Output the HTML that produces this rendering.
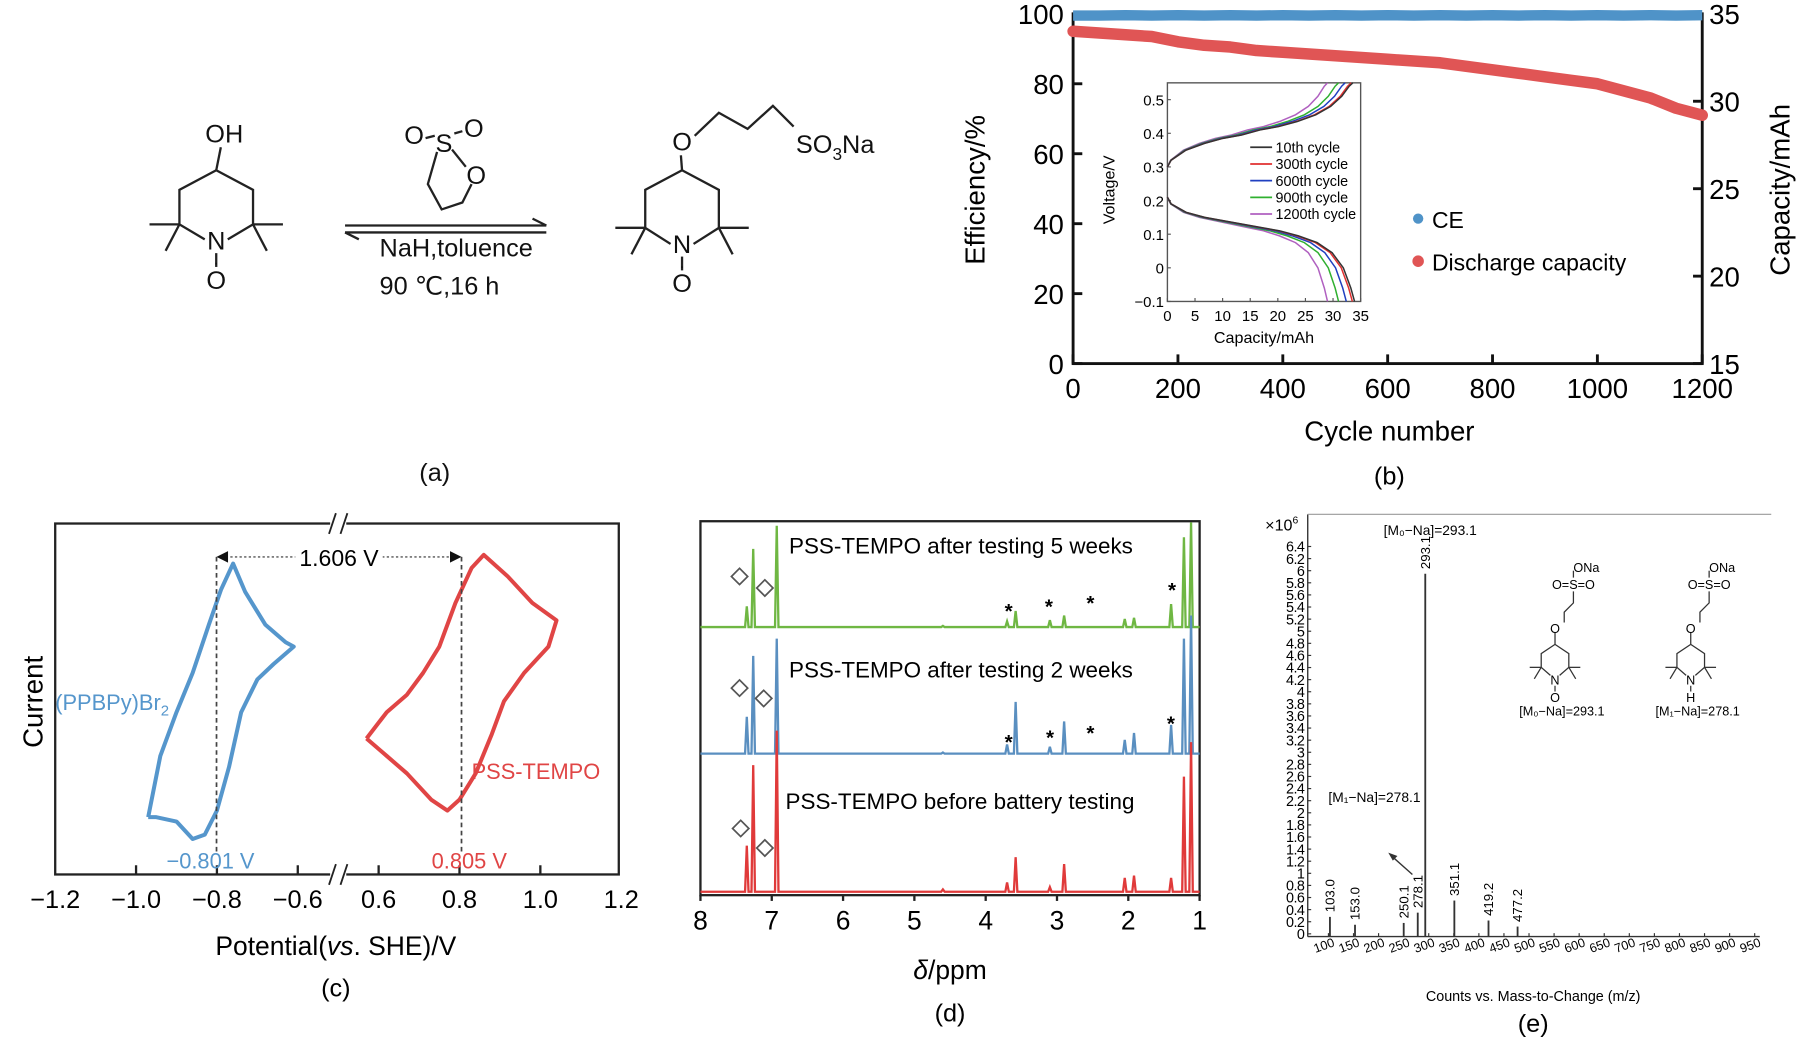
<!DOCTYPE html>
<html><head><meta charset="utf-8"><style>
html,body{margin:0;padding:0;background:#fff;}
svg{display:block;font-family:"Liberation Sans","DejaVu Sans",sans-serif;}
</style></head><body>
<svg id="fig" width="1800" height="1039" viewBox="0 0 1565 903" preserveAspectRatio="none" xmlns="http://www.w3.org/2000/svg">
<g stroke="#222" stroke-width="2" fill="none">
  <line x1="192" y1="128" x2="188" y2="148"/>
  <polyline points="188,148 220,165 220,195 198,208"/>
  <polyline points="188,148 156,165 156,195 178,208"/>
  <line x1="220" y1="195" x2="246" y2="195"/><line x1="220" y1="195" x2="232" y2="218"/>
  <line x1="156" y1="195" x2="130" y2="195"/><line x1="156" y1="195" x2="144" y2="218"/>
  <line x1="188" y1="220" x2="188" y2="232"/>
  <line x1="300" y1="196" x2="475" y2="196"/><polyline points="463,190 475,196"/>
  <line x1="300" y1="202" x2="475" y2="202"/><polyline points="300,202 312,208"/>
  <polyline points="380,132 372,160 384,182 402,176 410,160"/>
  <line x1="370" y1="120" x2="378" y2="118"/><line x1="395" y1="116" x2="402" y2="114"/>
  <line x1="393" y1="130" x2="405" y2="145"/>
  <line x1="592" y1="135" x2="593" y2="148"/>
  <polyline points="593,148 625,165 625,198 603,212"/>
  <polyline points="593,148 561,165 561,198 583,212"/>
  <line x1="625" y1="198" x2="651" y2="198"/><line x1="625" y1="198" x2="637" y2="221"/>
  <line x1="561" y1="198" x2="535" y2="198"/><line x1="561" y1="198" x2="549" y2="221"/>
  <line x1="593" y1="223" x2="593" y2="235"/>
  <polyline points="604,118 625,98 650,112 672,92 690,110"/>
</g>
<g font-size="22" fill="#111">
  <text x="195" y="124" text-anchor="middle">OH</text>
  <text x="188" y="217" text-anchor="middle">N</text>
  <text x="188" y="251" text-anchor="middle">O</text><text x="188" y="233" text-anchor="middle" font-size="14">·</text>
  <text x="386" y="132" text-anchor="middle">S</text>
  <text x="360" y="125" text-anchor="middle">O</text><text x="412" y="119" text-anchor="middle">O</text>
  <text x="414" y="160" text-anchor="middle">O</text>
  <text x="330" y="223">NaH,toluence</text>
  <text x="330" y="256">90 ℃,16 h</text>
  <text x="593" y="131" text-anchor="middle">O</text>
  <text x="593" y="220" text-anchor="middle">N</text>
  <text x="593" y="254" text-anchor="middle">O</text><text x="593" y="236" text-anchor="middle" font-size="14">·</text>
  <text x="692" y="133">SO<tspan font-size="15" dy="6">3</tspan><tspan dy="-6">Na</tspan></text>
  <text x="378" y="418" text-anchor="middle">(a)</text>
</g>
<g id="pb"></g>
<g id="pc"></g>
<g id="pd"></g>
<g id="pe"></g>
</svg>
<script>
const NS="http://www.w3.org/2000/svg";
function mk(parent,tag,attrs,text){const e=document.createElementNS(NS,tag);for(const k in attrs)e.setAttribute(k,attrs[k]);if(text!==undefined)e.textContent=text;parent.appendChild(e);return e;}

// ---------- Panel (b) data ----------
const bCycles=[0,50,100,150,200,250,300,350,400,450,500,550,600,650,700,750,800,850,900,950,1000,1050,1100,1150,1200];
const bCE=[99.5,99.5,99.6,99.5,99.6,99.5,99.6,99.5,99.6,99.5,99.6,99.5,99.6,99.5,99.6,99.5,99.6,99.5,99.6,99.5,99.6,99.5,99.6,99.5,99.6];
const bCapacity=[34.0,33.9,33.8,33.7,33.4,33.2,33.1,32.9,32.8,32.7,32.6,32.5,32.4,32.3,32.2,32.0,31.8,31.6,31.4,31.2,31.0,30.6,30.2,29.6,29.2];
const bXTicks=[0,200,400,600,800,1000,1200];
const bYLeftTicks=[0,20,40,60,80,100];
const bYRightTicks=[15,20,25,30,35];
const insetFrac=[0,0.02,0.1,0.2,0.3,0.4,0.5,0.6,0.7,0.8,0.88,0.94,0.98,1.0];
const insetChargeV=[0.30,0.32,0.35,0.37,0.385,0.395,0.41,0.42,0.435,0.455,0.48,0.51,0.54,0.55];
const insetDischargeV=[0.21,0.19,0.165,0.15,0.14,0.13,0.12,0.11,0.095,0.075,0.045,0.0,-0.06,-0.1];
const insetCycles=["10th cycle","300th cycle","600th cycle","900th cycle","1200th cycle"];
const insetChargeEnd=[33.6,33.3,32.2,31.0,29.0];
const insetDischargeEnd=[33.9,33.5,32.4,31.0,29.0];
const insetColors=["#333","#e03030","#2040c0","#30b030","#b060c0"];
const insetXTicks=[0,5,10,15,20,25,30,35];
const insetYTicks=[-0.1,0,0.1,0.2,0.3,0.4,0.5];

(function(){
 const g=document.getElementById('pb');
 const L=933,R=1480,T=12,B=316;
 const X=v=>L+(v-0)/1200*(R-L), YL=v=>B-v/100*(B-T), YR=v=>B-(v-15)/20*(B-T);
 mk(g,'rect',{x:L,y:T,width:R-L,height:B-T,fill:'none',stroke:'#111','stroke-width':2.5,});
 bXTicks.forEach(t=>{mk(g,'line',{x1:X(t),x2:X(t),y1:B,y2:B-8,stroke:'#111','stroke-width':2.5});
  const e=mk(g,'text',{x:X(t),y:B+30,'text-anchor':'middle','font-size':24},t);});
 bYLeftTicks.forEach(t=>{mk(g,'line',{x1:L,x2:L+8,y1:YL(t),y2:YL(t),stroke:'#111','stroke-width':2.5});
  const e=mk(g,'text',{x:L-8,y:YL(t)+9,'text-anchor':'end','font-size':24},t);});
 bYRightTicks.forEach(t=>{mk(g,'line',{x1:R,x2:R-8,y1:YR(t),y2:YR(t),stroke:'#111','stroke-width':2.5});
  const e=mk(g,'text',{x:R+6,y:YR(t)+9,'font-size':24},t);});
 let e=mk(g,'text',{x:1208,y:383,'text-anchor':'middle','font-size':24},'Cycle number');
 e=mk(g,'text',{x:0,y:0,'text-anchor':'middle','font-size':24,transform:'translate(856,165) rotate(-90)'},'Efficiency/%');
 e=mk(g,'text',{x:0,y:0,'text-anchor':'middle','font-size':24,transform:'translate(1556,165) rotate(-90)'},'Capacity/mAh');
 e=mk(g,'text',{x:1208,y:421,'text-anchor':'middle','font-size':22},'(b)');
 let p=bCycles.map((c,i)=>X(c)+','+YL(bCE[i])).join(' ');
 e=mk(g,'polyline',{points:p,fill:'none',stroke:'#4f93c8','stroke-width':9});
 p=bCycles.map((c,i)=>X(c)+','+YR(bCapacity[i])).join(' ');
 e=mk(g,'polyline',{points:p,fill:'none',stroke:'#e05555','stroke-width':10,'stroke-linejoin':'round','stroke-linecap':'round'});
 e=mk(g,'circle',{cx:1233,cy:190,r:4.5,fill:'#4f93c8'});
 e=mk(g,'text',{x:1245,y:198,'font-size':20},'CE');
 e=mk(g,'circle',{cx:1233,cy:227,r:5,fill:'#e05555'});
 e=mk(g,'text',{x:1245,y:235,'font-size':20},'Discharge capacity');
 const iL=1015,iR=1183,iT=72,iB=262;
 const IX=v=>iL+v/35*(iR-iL), IY=v=>iB-(v+0.1)/0.65*(iB-iT);
 mk(g,'rect',{x:iL,y:iT,width:iR-iL,height:iB-iT,fill:'#fff',stroke:'#555','stroke-width':1.2,});
 insetXTicks.forEach(t=>{mk(g,'line',{x1:IX(t),x2:IX(t),y1:iB,y2:iB-3,stroke:'#555'});
  const e=mk(g,'text',{x:IX(t),y:iB+17,'text-anchor':'middle','font-size':13},t);});
 insetYTicks.forEach(t=>{mk(g,'line',{x1:iL,x2:iL+3,y1:IY(t),y2:IY(t),stroke:'#555'});
  const e=mk(g,'text',{x:iL-3,y:IY(t)+5,'text-anchor':'end','font-size':13},(t<0?'\u2212'+Math.abs(t):String(t)));});
 e=mk(g,'text',{x:1099,y:298,'text-anchor':'middle','font-size':14},'Capacity/mAh');
 e=mk(g,'text',{x:0,y:0,'text-anchor':'middle','font-size':14,transform:'translate(969,165) rotate(-90)'},'Voltage/V');
 for(let k=insetCycles.length-1;k>=0;k--){
  let pc=insetFrac.map((f,i)=>IX(f*insetChargeEnd[k])+','+IY(insetChargeV[i])).join(' ');
  e=mk(g,'polyline',{points:pc,fill:'none',stroke:insetColors[k],'stroke-width':1.3});
  let pd=insetFrac.map((f,i)=>IX(f*insetDischargeEnd[k])+','+IY(insetDischargeV[i])).join(' ');
  e=mk(g,'polyline',{points:pd,fill:'none',stroke:insetColors[k],'stroke-width':1.3});
 }
 insetCycles.forEach((c,k)=>{const y=128+k*14.5;
  mk(g,'line',{x1:1087,x2:1106,y1:y,y2:y,stroke:insetColors[k],'stroke-width':1.5});
  const e=mk(g,'text',{x:1109,y:y+4.5,'font-size':12.5},c);});
})();

// ---------- Panel (c) data ----------
const cTicksLeft=[-1.2,-1.0,-0.8,-0.6];
const cTicksRight=[0.6,0.8,1.0,1.2];
const cBluePot=[-0.97,-0.94,-0.9,-0.86,-0.82,-0.79,-0.76,-0.73,-0.68,-0.63,-0.61,-0.66,-0.7,-0.74,-0.77,-0.8,-0.83,-0.86,-0.9,-0.95,-0.97];
const cBlueCur=[-0.78,-0.5,-0.3,-0.12,0.1,0.26,0.38,0.25,0.1,0.02,0.0,-0.08,-0.15,-0.3,-0.55,-0.75,-0.86,-0.88,-0.8,-0.78,-0.78];
const cRedPot=[0.57,0.62,0.67,0.71,0.75,0.79,0.83,0.86,0.92,0.98,1.04,1.02,0.96,0.91,0.88,0.84,0.8,0.77,0.73,0.67,0.62,0.57];
const cRedCur=[-0.42,-0.3,-0.22,-0.12,0.0,0.2,0.36,0.42,0.32,0.2,0.12,0.0,-0.12,-0.25,-0.4,-0.58,-0.7,-0.75,-0.7,-0.58,-0.5,-0.42];
const cPeaks=[-0.801,0.805];

(function(){
 const g=document.getElementById('pc');
 const L=48,R=538,T=455,B=760,step=70.3;
 const XP=v=> v<0 ? L+(v+1.2)/0.2*step : L+(4+(v-0.6)/0.2)*step;
 const Y=v=>562-v*190;
 mk(g,'rect',{x:L,y:T,width:R-L,height:B-T,fill:'none',stroke:'#222','stroke-width':2,});
 const bx=(XP(-0.6)+XP(0.6))/2;
 [T,B].forEach(y=>{mk(g,'rect',{x:bx-7,y:y-3,width:14,height:6,fill:'#fff'});
  mk(g,'line',{x1:bx-8,y1:y+9,x2:bx-2,y2:y-9,stroke:'#222','stroke-width':1.6});
  mk(g,'line',{x1:bx+2,y1:y+9,x2:bx+8,y2:y-9,stroke:'#222','stroke-width':1.6});});
 cTicksLeft.concat(cTicksRight).forEach(t=>{const x=XP(t);
  if(x>L+2&&x<R-2) mk(g,'line',{x1:x,x2:x,y1:B,y2:B-8,stroke:'#222','stroke-width':2});
  const e=mk(g,'text',{x:x,y:B+29,'text-anchor':'middle','font-size':22},(t<0?'\u2212':'')+Math.abs(t).toFixed(1));});
 let e=mk(g,'polyline',{points:cBluePot.map((v,i)=>XP(v)+','+Y(cBlueCur[i])).join(' '),fill:'none',stroke:'#5596cc','stroke-width':3.5,'stroke-linejoin':'round'});
 e=mk(g,'polyline',{points:cRedPot.map((v,i)=>XP(v)+','+Y(cRedCur[i])).join(' '),fill:'none',stroke:'#e04545','stroke-width':3.5,'stroke-linejoin':'round'});
 cPeaks.forEach(p=>{mk(g,'line',{x1:XP(p),x2:XP(p),y1:484,y2:742,stroke:'#444','stroke-width':1.5,'stroke-dasharray':'4,3'});});
 const x1=XP(cPeaks[0]),x2=XP(cPeaks[1]);
 mk(g,'line',{x1:x1+8,x2:x2-8,y1:484,y2:484,stroke:'#555','stroke-width':1.2,'stroke-dasharray':'2,2'});
 mk(g,'polygon',{points:`${x1},484 ${x1+10},479 ${x1+10},489`,fill:'#111'});
 mk(g,'polygon',{points:`${x2},484 ${x2-10},479 ${x2-10},489`,fill:'#111'});
 mk(g,'rect',{x:(x1+x2)/2-38,y:472,width:76,height:24,fill:'#fff'});
 e=mk(g,'text',{x:(x1+x2)/2,y:492,'text-anchor':'middle','font-size':20},'1.606 V');
 e=mk(g,'text',{x:48,y:617,'font-size':19,fill:'#5596cc'});e.innerHTML='(PPBPy)Br<tspan font-size="13" dy="5">2</tspan>';
 e=mk(g,'text',{x:410,y:677,'font-size':19,fill:'#e04545'},'PSS-TEMPO');
 e=mk(g,'text',{x:183,y:755,'text-anchor':'middle','font-size':19,fill:'#5596cc'},'\u22120.801 V');
 e=mk(g,'text',{x:408,y:755,'text-anchor':'middle','font-size':19,fill:'#e04545'},'0.805 V');
 e=mk(g,'text',{x:0,y:0,'text-anchor':'middle','font-size':24,transform:'translate(37,610) rotate(-90)'},'Current');
 e=mk(g,'text',{x:292,y:830,'text-anchor':'middle','font-size':23});e.innerHTML='Potential(<tspan font-style="italic">vs</tspan>. SHE)/V';
 e=mk(g,'text',{x:292,y:866,'text-anchor':'middle','font-size':22},'(c)');
})();

// ---------- Panel (d) data ----------
const dTicks=[8,7,6,5,4,3,2,1];
const dPeakPpm=[7.35,7.26,6.93,4.6,3.7,3.58,3.1,2.9,2.05,1.92,1.4,1.22,1.12];
const dGreenH=[18,68,88,1,5,14,6,10,7,8,20,78,100];
const dBlueH=[32,85,100,1,8,45,6,28,12,18,25,100,120];
const dRedH=[40,110,140,2,8,30,4,24,12,14,12,100,130];
const dLabels=["PSS-TEMPO after testing 5 weeks","PSS-TEMPO after testing 2 weeks","PSS-TEMPO before battery testing"];

(function(){
 const g=document.getElementById('pd');
 const L=609,R=1043,T=453,B=778;
 const X=v=>L+(8-v)*62;
 mk(g,'rect',{x:L,y:T,width:R-L,height:B-T,fill:'none',stroke:'#222','stroke-width':2,});
 dTicks.forEach(t=>{mk(g,'line',{x1:X(t),x2:X(t),y1:B,y2:B+5,stroke:'#222','stroke-width':2});
  const e=mk(g,'text',{x:X(t),y:B+30,'text-anchor':'middle','font-size':23},t);});
 const series=[[dGreenH,545,'#6fb743','nmr-5-weeks'],[dBlueH,655,'#5a8fc0','nmr-2-weeks'],[dRedH,775,'#e03a3a','nmr-before-testing']];
 series.forEach(([H,base,col,name])=>{
  let pts=[L+','+base];
  dPeakPpm.map((p,i)=>[X(p),H[i]]).sort((a,b)=>a[0]-b[0]).forEach(([x,h])=>{pts.push((x-1.5)+','+base,x+','+Math.max(T+1,base-h),(x+1.5)+','+base);});
  pts.push(R+','+base);
  const e=mk(g,'polyline',{points:pts.join(' '),fill:'none',stroke:col,'stroke-width':2});
 });
 const ly=[481,589,703];
 dLabels.forEach((t,i)=>{const e=mk(g,'text',{x:i==2?683:686,y:ly[i],'font-size':19.5},t);});
 [[643,501],[665,511],[643,598],[664,607],[644,720],[665,737]].forEach(([x,y])=>{const e=mk(g,'rect',{x:x-5,y:y-5,width:10,height:10,fill:'none',stroke:'#555','stroke-width':1.5,transform:`rotate(45 ${x} ${y})`});});
 [[877,537],[912,533],[948,530],[1019,519],[877,651],[913,647],[948,643],[1018,635]].forEach(([x,y])=>{const e=mk(g,'text',{x:x,y:y,'text-anchor':'middle','font-size':18,'font-weight':'bold'},'*');});
 let e=mk(g,'text',{x:826,y:851,'text-anchor':'middle','font-size':23});e.innerHTML='<tspan font-style="italic">δ</tspan>/ppm';
 e=mk(g,'text',{x:826,y:888,'text-anchor':'middle','font-size':22},'(d)');
})();

// ---------- Panel (e) data ----------
const eXTicks=[100,150,200,250,300,350,400,450,500,550,600,650,700,750,800,850,900,950];
const eYTicks=[0,0.2,0.4,0.6,0.8,1,1.2,1.4,1.6,1.8,2,2.2,2.4,2.6,2.8,3,3.2,3.4,3.6,3.8,4,4.2,4.4,4.6,4.8,5,5.2,5.4,5.6,5.8,6,6.2,6.4];
const ePeakMz=[103.0,153.0,250.1,278.1,293.1,351.1,419.2,477.2];
const ePeakInt=[0.28,0.15,0.18,0.35,5.95,0.55,0.22,0.12];
const ePeakLabels=["103.0","153.0","250.1","278.1","293.1","351.1","419.2","477.2"];

(function(){
 const g=document.getElementById('pe');
 const L=1137,B=814,R=1540;
 const X=v=>1155+(v-100)*0.436, Y=v=>811.6-v*52.6;
 mk(g,'line',{x1:L,x2:L,y1:447,y2:B,stroke:'#333','stroke-width':1.2,});
 mk(g,'line',{x1:L,x2:R,y1:447,y2:447,stroke:'#999','stroke-width':1,});
 mk(g,'line',{x1:L,x2:1530,y1:B,y2:B,stroke:'#333','stroke-width':1.2,});
 eYTicks.forEach(t=>{mk(g,'line',{x1:L,x2:L+3,y1:Y(t),y2:Y(t),stroke:'#333'});
  const e=mk(g,'text',{x:L-3,y:Y(t)+4.5,'text-anchor':'end','font-size':12.5,'letter-spacing':'-0.5'},String(t));});
 eXTicks.forEach(t=>{mk(g,'line',{x1:X(t),x2:X(t),y1:B,y2:B-3,stroke:'#333'});
  const e=mk(g,'text',{x:0,y:0,'text-anchor':'end','font-size':11,transform:`translate(${X(t)+6},${B+8}) rotate(-20)`},t);});
 ePeakMz.forEach((m,i)=>{
  let e=mk(g,'line',{x1:X(m),x2:X(m),y1:B,y2:Y(ePeakInt[i]),stroke:'#333','stroke-width':1.6});
  const ty=Y(ePeakInt[i])-4;
  e=mk(g,'text',{x:0,y:0,'font-size':11.5,transform:`translate(${X(m)+4},${ty}) rotate(-90)`},ePeakLabels[i]);
 });
 let e=mk(g,'text',{x:1100,y:461,'font-size':14});e.innerHTML='×10<tspan font-size="9" dy="-6">6</tspan>';
 e=mk(g,'text',{x:1203,y:465,'font-size':12},'[M\u2080\u2212Na]=293.1');
 e=mk(g,'text',{x:1155,y:697,'font-size':12},'[M\u2081\u2212Na]=278.1');
 mk(g,'line',{x1:1228,y1:760,x2:1210,y2:744,stroke:'#333','stroke-width':1.2});
 mk(g,'polygon',{points:'1207,741 1215,744 1211,748',fill:'#333'});
 [[1360,'O','[M\u2080\u2212Na]=293.1','m0-structure'],[1478,'H','[M\u2081\u2212Na]=278.1','m1-structure']].forEach(([cx,sub,lab,nm])=>{
  const s=mk(g,'g',{stroke:'#333','stroke-width':1.1,fill:'none'});
  mk(s,'line',{x1:cx+8,y1:496,x2:cx+8,y2:502});
  mk(s,'polyline',{points:`${cx+8},514 ${cx+8},524 ${cx},532 ${cx},541`});
  mk(s,'line',{x1:cx-8,y1:550,x2:cx-8,y2:560});
  mk(s,'polyline',{points:`${cx-8},560 ${cx-20},568 ${cx-20},580 ${cx-12},587`});
  mk(s,'polyline',{points:`${cx-8},560 ${cx+4},568 ${cx+4},580 ${cx-4},587`});
  mk(s,'line',{x1:cx-20,y1:580,x2:cx-30,y2:580});mk(s,'line',{x1:cx-20,y1:580,x2:cx-26,y2:590});
  mk(s,'line',{x1:cx+4,y1:580,x2:cx+14,y2:580});mk(s,'line',{x1:cx+4,y1:580,x2:cx+10,y2:590});
  mk(s,'line',{x1:cx-8,y1:596,x2:cx-8,y2:601});
  mk(g,'text',{x:cx+8,y:497,'text-anchor':'start','font-size':11},'ONa');
  mk(g,'text',{x:cx+8,y:512,'text-anchor':'middle','font-size':11},'O=S=O');
  mk(g,'text',{x:cx-8,y:550,'text-anchor':'middle','font-size':11},'O');
  mk(g,'text',{x:cx-8,y:595,'text-anchor':'middle','font-size':11},'N');
  mk(g,'text',{x:cx-8,y:610,'text-anchor':'middle','font-size':11},sub);
  const e=mk(g,'text',{x:cx-2,y:622,'text-anchor':'middle','font-size':11},lab);
 });
 e=mk(g,'text',{x:1333,y:870,'text-anchor':'middle','font-size':12.5},'Counts vs. Mass-to-Change (m/z)');
 e=mk(g,'text',{x:1333,y:897,'text-anchor':'middle','font-size':22},'(e)');
})();
</script>
</body></html>
